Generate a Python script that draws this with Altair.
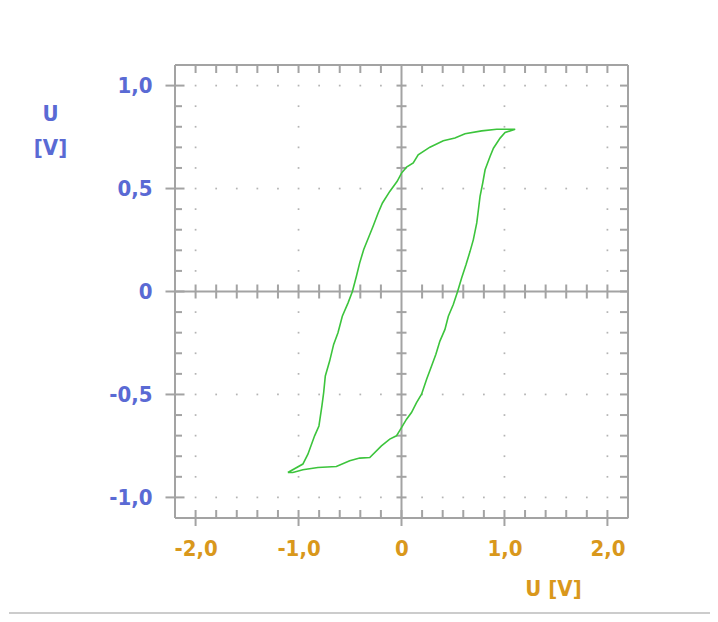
import altair as alt
import pandas as pd

# ---- data -------------------------------------------------------------
# upper/left branch of the hysteresis loop (from bottom-left tip to top-right tip)
upper_x = [-1.104, -0.958, -0.909, -0.844, -0.802, -0.773, -0.756, -0.740, -0.698, -0.659,
           -0.617, -0.575, -0.519, -0.477, -0.438, -0.406, -0.367, -0.315, -0.276, -0.227,
           -0.185, -0.114, -0.042, 0.0, 0.049, 0.114, 0.162, 0.276, 0.406, 0.519,
           0.617, 0.779, 0.925, 1.104]
upper_y = [-0.879, -0.838, -0.790, -0.701, -0.653, -0.556, -0.491, -0.410, -0.338, -0.257,
           -0.200, -0.120, -0.055, 0.0, 0.074, 0.139, 0.204, 0.268, 0.317, 0.381,
           0.430, 0.486, 0.535, 0.575, 0.604, 0.624, 0.664, 0.701, 0.732, 0.745,
           0.766, 0.780, 0.788, 0.788]
# lower/right branch (from top-right tip back to bottom-left tip)
lower_x = [1.104, 1.006, 0.958, 0.893, 0.860, 0.812, 0.789, 0.763, 0.747, 0.731,
           0.698, 0.666, 0.627, 0.584, 0.545, 0.503, 0.455, 0.422, 0.373, 0.334,
           0.292, 0.244, 0.195, 0.146, 0.097, 0.049, 0.0, -0.049, -0.114, -0.195,
           -0.308, -0.406, -0.503, -0.633, -0.812, -0.958, -1.055, -1.104]
lower_y = [0.788, 0.772, 0.745, 0.696, 0.656, 0.591, 0.527, 0.462, 0.397, 0.333,
           0.252, 0.195, 0.131, 0.066, 0.0, -0.063, -0.120, -0.184, -0.241, -0.305,
           -0.362, -0.426, -0.499, -0.540, -0.588, -0.620, -0.661, -0.701, -0.717, -0.750,
           -0.806, -0.809, -0.822, -0.850, -0.855, -0.866, -0.879, -0.879]

x_label_values = [-2.0, -1.0, 0.0, 1.0, 2.0]
y_label_values = [-1.0, -0.5, 0.0, 0.5, 1.0]
x_steps = [round(i / 5, 1) for i in range(-10, 11)]    # every 0.2
y_steps = [round(i / 10, 1) for i in range(-10, 11)]   # every 0.1
x_dot_cols = [-2.0, -1.0, 1.0, 2.0]
y_dot_rows = [-1.0, -0.5, 0.5, 1.0]
X_MIN, X_MAX = -2.2, 2.2
Y_MIN, Y_MAX = -1.1, 1.1
x_title = "U [V]"
y_title = ["U", "[V]"]

# ---- styles ------------------------------------------------------------
GRAY = "#a3a3a3"
DOT = "#b4b4b4"
GREEN = "#3cc43c"
BLUE = "#5a6ad4"
ORANGE = "#d9981c"
FONT = "DejaVu Sans Condensed, DejaVu Sans, sans-serif"
FS = 22

label_expr = ("datum.value == 0 ? '0' : replace((datum.value < 0 ? '-' : '') + "
              "format(abs(datum.value), '.1f'), '.', ',')")

xs = alt.Scale(domain=[X_MIN, X_MAX], nice=False, zero=False)
ys = alt.Scale(domain=[Y_MIN, Y_MAX], nice=False, zero=False)

xaxis = alt.Axis(values=x_label_values, labelExpr=label_expr, domain=False, ticks=False,
                 grid=False, labelPadding=20, labelColor=ORANGE, labelFont=FONT,
                 labelFontSize=FS, labelFontWeight="bold", labelFlush=False,
                 labelOverlap=False, title=x_title, titleX=378, titleY=77,
                 titleColor=ORANGE, titleFont=FONT, titleFontSize=FS,
                 titleFontWeight="bold", titleAlign="center", titleBaseline="alphabetic")
yaxis = alt.Axis(values=y_label_values, labelExpr=label_expr, domain=False, ticks=False,
                 grid=False, labelPadding=23, labelColor=BLUE, labelFont=FONT,
                 labelFontSize=FS, labelFontWeight="bold", labelFlush=False,
                 labelOverlap=False, title=y_title, titleAngle=0, titleX=-125, titleY=38,
                 titleColor=BLUE, titleFont=FONT, titleFontSize=FS, titleFontWeight="bold",
                 titleAlign="center", titleBaseline="top", titleLineHeight=34)


def enc(ch):
    return ch.encode(x=alt.X("x:Q", scale=xs, axis=xaxis),
                     y=alt.Y("y:Q", scale=ys, axis=yaxis))


# ---- grid dots -----------------------------------------------------------
dots = []
for yv in y_dot_rows:
    for xv in x_steps:
        if xv != 0:
            dots.append({"x": xv, "y": yv})
for xv in x_dot_cols:
    for yv in y_steps:
        if yv != 0 and yv not in y_dot_rows:
            dots.append({"x": xv, "y": yv})
dot_layer = enc(alt.Chart(pd.DataFrame(dots)).mark_square(size=3, color=DOT, opacity=1))

# ---- frame and centre axis lines -----------------------------------------------
vlines = pd.DataFrame({"x": [X_MIN, 0.0, X_MAX], "y": [Y_MIN] * 3, "y2": [Y_MAX] * 3})
hlines = pd.DataFrame({"x": [X_MIN] * 3, "x2": [X_MAX] * 3, "y": [Y_MIN, 0.0, Y_MAX]})
vrule = alt.Chart(vlines).mark_rule(color=GRAY, strokeWidth=2).encode(
    x=alt.X("x:Q", scale=xs, axis=xaxis), y=alt.Y("y:Q", scale=ys, axis=yaxis), y2="y2:Q")
hrule = alt.Chart(hlines).mark_rule(color=GRAY, strokeWidth=2).encode(
    x=alt.X("x:Q", scale=xs, axis=xaxis), x2="x2:Q", y=alt.Y("y:Q", scale=ys, axis=yaxis))


def ticks(rows, orient, size, xoff=0, yoff=0):
    return enc(alt.Chart(pd.DataFrame(rows)).mark_tick(
        orient=orient, size=size, thickness=2, color=GRAY, opacity=1,
        xOffset=xoff, yOffset=yoff))


left_major = [{"x": X_MIN, "y": v} for v in y_label_values]
left_minor = [{"x": X_MIN, "y": v} for v in y_steps if v not in y_label_values]
right_all = [{"x": X_MAX, "y": v} for v in y_steps]
top_all = [{"x": v, "y": Y_MAX} for v in x_steps if v != 0]
bottom_minor = [{"x": v, "y": Y_MIN} for v in x_steps if v not in x_label_values]
bottom_major = [{"x": v, "y": Y_MIN} for v in x_label_values]
center_v = [{"x": 0.0, "y": v} for v in y_steps if v != 0]
center_h = [{"x": v, "y": 0.0} for v in x_steps if v != 0]

tick_layers = [
    ticks(left_major, "horizontal", 19),
    ticks(left_minor, "horizontal", 7, xoff=3.5),
    ticks(right_all, "horizontal", 8, xoff=-4),
    ticks(top_all, "vertical", 8, yoff=4),
    ticks(bottom_minor, "vertical", 8, yoff=-4),
    ticks(bottom_major, "vertical", 16),
    ticks(center_v, "horizontal", 10),
    ticks(center_h, "vertical", 14),
]

# ---- loop ----------------------------------------------------------------
loop_x = upper_x + lower_x[1:]
loop_y = upper_y + lower_y[1:]
loop = pd.DataFrame({"x": loop_x, "y": loop_y, "i": list(range(len(loop_x)))})
line = alt.Chart(loop).mark_line(color=GREEN, strokeWidth=1.6).encode(
    x=alt.X("x:Q", scale=xs, axis=xaxis), y=alt.Y("y:Q", scale=ys, axis=yaxis),
    order="i:Q")

# ---- bottom separator ---------------------------------------------------------
sep = alt.Chart(pd.DataFrame({"a": [0]})).mark_rule(color="#cccccc", strokeWidth=2).encode(
    x=alt.value(-166), x2=alt.value(540), y=alt.value(548))

chart = alt.layer(dot_layer, vrule, hrule, *tick_layers, line, sep).properties(
    width=453, height=453,
    autosize=alt.AutoSizeParams(type="none"),
    padding={"left": 167, "top": 57, "right": 82, "bottom": 96},
).configure_view(stroke=None).configure(background="white")

chart.save("out.html", embed_options={"renderer": "svg", "actions": False})
